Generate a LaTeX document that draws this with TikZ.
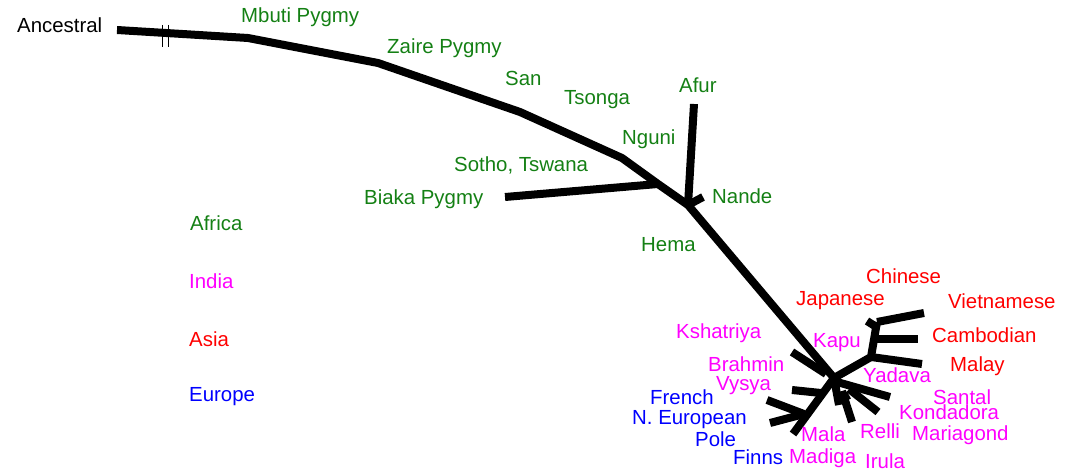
\documentclass[tikz,border=0pt]{standalone}
\usepackage{fontspec}
\setmainfont{Liberation Sans}
\definecolor{afr}{RGB}{20,128,20}
\definecolor{ind}{RGB}{255,0,255}
\definecolor{asi}{RGB}{255,0,0}
\definecolor{eur}{RGB}{0,0,255}
\begin{document}
\begin{tikzpicture}[x=1pt,y=-1pt,
  branch/.style={line width=8pt, line join=round},
  lab/.style={anchor=base west, inner sep=0pt, font=\fontsize{20.4}{24}\selectfont},
  africa/.style={lab, text=afr},
  india/.style={lab, text=ind},
  asia/.style={lab, text=asi},
  europe/.style={lab, text=eur}]
\useasboundingbox (0,0) rectangle (1066,470);

% --- tree coordinates ---
\coordinate (anc) at (117,30);
\coordinate (m1) at (248,38);
\coordinate (m2) at (378,63);
\coordinate (m3) at (520,112);
\coordinate (m4) at (622,158);
\coordinate (bj) at (658,184);
\coordinate (nj) at (688,205);
\coordinate (ctr) at (834,378);
\coordinate (biaka) at (505,197);
\coordinate (afur) at (694,104);
\coordinate (nande) at (703,197);
\coordinate (ksh) at (792,352);
\coordinate (kshj) at (826,374);
\coordinate (aj) at (871,357);
\coordinate (atop) at (877,322);
\coordinate (cj) at (877,339);
\coordinate (jap1) at (867,321);
\coordinate (jap2) at (878,328);
\coordinate (viet) at (924,313);
\coordinate (camb) at (918,339);
\coordinate (mal) at (922,364);
\coordinate (vys) at (792,390);
\coordinate (vysj) at (821,393);
\coordinate (eurj) at (804,414);
\coordinate (finn) at (793,434);
\coordinate (fre) at (767,400);
\coordinate (neu) at (770,423);
\coordinate (sant) at (890,397);
\coordinate (santj) at (837,382);
\coordinate (kond) at (878,412);
\coordinate (kondj) at (849,389);
\coordinate (rel) at (852,422);
\coordinate (relj) at (842,391);
\coordinate (mstub) at (839,405);
\coordinate (mtick) at (849,395);

% --- main lineage ---
\draw[branch] (anc) -- (m1) -- (m2) -- (m3) -- (m4) -- (bj) -- (nj) -- (ctr);
\draw[branch] (biaka) -- (bj);
\draw[branch] (afur) -- (nj);
\draw[branch] (nj) -- (nande);
% break marks on the root branch
\draw[line width=1pt] (162,25) -- (162,47) (168,25) -- (168,47);

% --- Asian cluster ---
\draw[branch] (ctr) -- (aj) -- (atop);
\draw[branch] (jap1) -- (jap2);
\draw[branch] (atop) -- (viet);
\draw[branch] (cj) -- (camb);
\draw[branch] (aj) -- (mal);

% --- Indian and European branches ---
\draw[branch] (ksh) -- (kshj);
\draw[branch] (vys) -- (vysj);
\draw[branch] (ctr) -- (finn);
\draw[branch] (fre) -- (eurj);
\draw[branch] (neu) -- (eurj);
\draw[branch] (santj) -- (sant);
\draw[branch] (kondj) -- (kond);
\draw[branch] (relj) -- (rel);
\draw[branch] (ctr) -- (mstub);
\draw[branch] (838,401) -- (mtick);

% --- labels ---
\node[lab] (tAnc) at (17,33) {Ancestral};
\node[africa] (tMbuti) at (241,23) {Mbuti Pygmy};
\node[africa] (tZaire) at (387,54) {Zaire Pygmy};
\node[africa] (tSan) at (505,86) {San};
\node[africa] (tTsonga) at (564,105) {Tsonga};
\node[africa] (tAfur) at (679,93) {Afur};
\node[africa] (tNguni) at (622,145) {Nguni};
\node[africa] (tSotho) at (454,172) {Sotho, Tswana};
\node[africa] (tBiaka) at (364,205) {Biaka Pygmy};
\node[africa] (tNande) at (712,204) {Nande};
\node[africa] (tHema) at (641,252) {Hema};

\node[africa] (kAfrica) at (190,231) {Africa};
\node[india] (kIndia) at (189,289) {India};
\node[asia] (kAsia) at (189,347) {Asia};
\node[europe] (kEurope) at (189,401) {Europe};

\node[asia] (tChinese) at (866,284) {Chinese};
\node[asia] (tJapanese) at (796,306) {Japanese};
\node[asia] (tViet) at (948,309) {Vietnamese};
\node[asia] (tCamb) at (932,343) {Cambodian};
\node[asia] (tMalay) at (950,372) {Malay};

\node[india] (tKsh) at (676,339) {Kshatriya};
\node[india] (tKapu) at (813,348) {Kapu};
\node[india] (tBrahmin) at (708,372) {Brahmin};
\node[india] (tVysya) at (716,390) {Vysya};
\node[india] (tYadava) at (863,383) {Yadava};
\node[india] (tSantal) at (933,404) {Santal};
\node[india] (tKond) at (899,419) {Kondadora};
\node[india] (tMariag) at (912,440) {Mariagond};
\node[india] (tMala) at (801,441) {Mala};
\node[india] (tMadiga) at (789,463) {Madiga};
\node[india] (tRelli) at (860,438) {Relli};
\node[india] (tIrula) at (865,468) {Irula};

\node[europe] (tFrench) at (650,404) {French};
\node[europe] (tNEur) at (632,424) {N. European};
\node[europe] (tPole) at (695,446) {Pole};
\node[europe] (tFinns) at (733,464) {Finns};
\end{tikzpicture}
\end{document}
